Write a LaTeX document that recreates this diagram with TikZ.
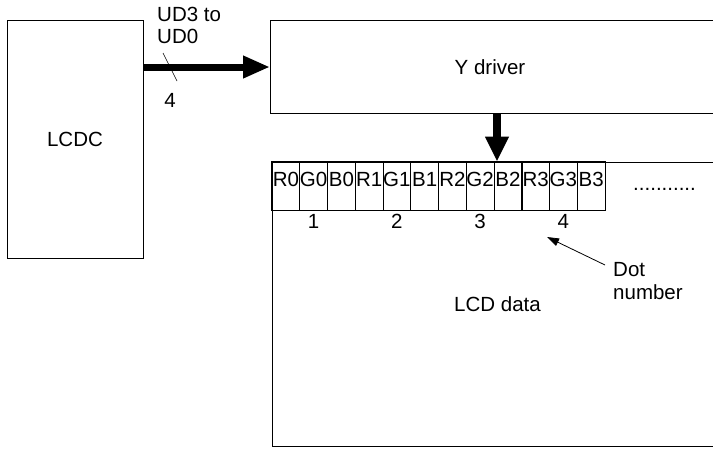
\documentclass[tikz,border=0pt]{standalone}
\usepackage{fontspec}
\setmainfont{Liberation Sans}
\usetikzlibrary{arrows.meta}
\begin{document}
\begin{tikzpicture}[x=1pt,y=-1pt,
  font=\fontsize{20.5}{22}\selectfont,
  box/.style={draw, line width=1pt},
  cell/.style={draw, line width=0.6pt, minimum width=27.75pt, inner sep=0pt, text height=24.7pt, text depth=23.3pt},
  lbl/.style={inner sep=0pt},
  bigarrow/.style={line width=7pt, -{Triangle[length=27pt,width=21pt]}},
  downarrow/.style={line width=8pt, -{Triangle[length=25pt,width=22pt]}},
  thinarrow/.style={line width=0.8pt, -{Triangle[length=12pt,width=8pt]}}]
\useasboundingbox (0,0) rectangle (713,448);
% LCDC
\node[box, minimum width=136pt, minimum height=238pt, inner sep=0pt] (lcdc) at (75,139) {LCDC};
% Y driver
\draw[box] (713,20) -- (270,20) -- (270,113) -- (713,113);
\node[lbl, anchor=base] (ydrv) at (490,74) {Y driver};
\coordinate (yin) at (270,67);
\coordinate (ybot) at (497,113);
% bus arrow
\draw[bigarrow] (lcdc.east |- yin) -- (yin);
\draw[line width=0.6pt] (163,53) -- (177,81);
\node[lbl, anchor=north west, align=left, font=\fontsize{20.5}{21.7}\selectfont] (ud) at (157,7) {UD3 to\\UD0};
\node[lbl, anchor=base] (four) at (170,107) {4};
% LCD data area
\draw[box] (713,162) -- (272,162) -- (272,446) -- (713,446);
\foreach \t [count=\i from 0] in {R0,G0,B0,R1,G1,B1,R2,G2,B2,R3,G3,B3}
  \node[cell] (c\i) at ({272+27.75*(\i+0.5)},186) {\t};
\draw[box] (c0.north west) rectangle (c11.south east);
\foreach \k in {2,5,8}
  \draw[box] (c\k.north east) -- (c\k.south east);
\draw[downarrow] (ybot) -- (ybot |- c8.north);
\node[lbl, anchor=base] (n1) at (313.6,228) {1};
\node[lbl, anchor=base] (n2) at (396.9,228) {2};
\node[lbl, anchor=base] (n3) at (480.1,228) {3};
\node[lbl, anchor=base] (n4) at (563.4,228) {4};
\node[lbl, anchor=base west] (dots) at (633,190) {...........};
\node[lbl, anchor=base] (lcddata) at (497.5,311.7) {LCD data};
\node[lbl, anchor=north west, align=left, font=\fontsize{20.5}{23}\selectfont] (dotnum) at (613,262) {Dot\\number};
\coordinate (dtail) at (605,265);
\coordinate (dtip) at (547,237);
\draw[thinarrow] (dtail) -- (dtip);
\end{tikzpicture}
\end{document}
